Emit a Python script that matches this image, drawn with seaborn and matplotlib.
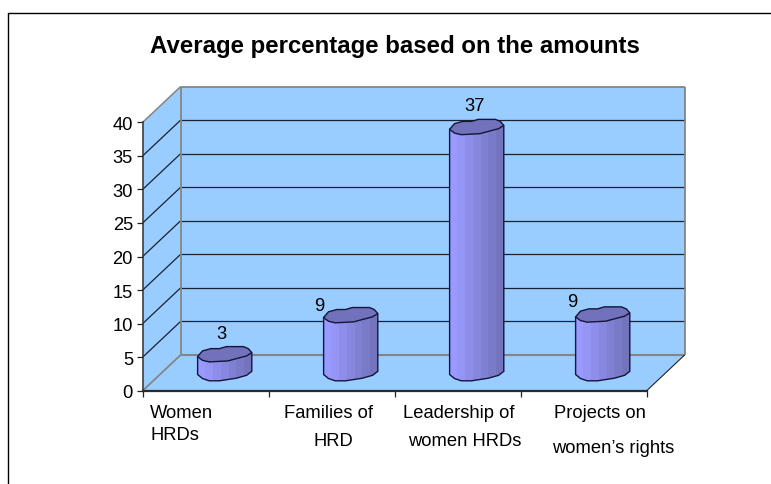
import numpy as np
import pandas as pd
import matplotlib
matplotlib.use("Agg")
import matplotlib.pyplot as plt
from matplotlib.patches import Polygon
from matplotlib.lines import Line2D
from matplotlib.transforms import IdentityTransform
import seaborn as sns

title = "Average percentage based on the amounts"
categories = ["Women HRDs", "Families of HRD", "Leadership of women HRDs", "Projects on women's rights"]
values = [2.7, 8.6, 37, 8.7]
y_ticks = [0, 5, 10, 15, 20, 25, 30, 35, 40]
label_lines = [["Women", "HRDs"], ["Families of", "HRD"], ["Leadership of", "women HRDs"],
               ["Projects on", "women\u2019s rights"]]

W, H = 771, 485
FS = 13.2
sns.set_theme(style="white")
plt.rcParams["font.family"] = ["Liberation Sans", "DejaVu Sans"]
plt.rcParams["axes.unicode_minus"] = False

fig = plt.figure(figsize=(W / 100, H / 100), dpi=100, facecolor="white")

def rect(l, top, r, bot):
    return [l / W, 1 - bot / H, (r - l) / W, (bot - top) / H]

FRONT = (142.7, 123.3, 646.7, 391.7)
DX, DY = 38.0, 35.8
ax = fig.add_axes(rect(*FRONT))
ax.set_xlim(-0.5, 3.5)
ax.set_ylim(0, 40)
ax.patch.set_alpha(0)
for s in ("top", "right"):
    ax.spines[s].set_visible(False)
ax.spines["left"].set_color("#333333")
ax.spines["left"].set_linewidth(1.1)
ax.spines["bottom"].set_color("#2a2a2a")
ax.spines["bottom"].set_linewidth(1.6)
ax.set_yticks(y_ticks)
ax.set_xticks(np.arange(-0.5, 4, 1))
ax.set_xticklabels([])
ax.tick_params(axis="both", length=4.5, width=0.9, color="#222222", direction="out",
               left=True, bottom=True, labelsize=FS, labelcolor="black", pad=2.5)

WALL = "#99CCFF"
GREY = "#858585"
PX = IdentityTransform()

def front(x, y):
    return ax.transData.transform((x, y))

def back(x, y):
    return front(x, y) + np.array([DX, DY])

def poly(pts, **kw):
    ax.add_patch(Polygon(np.array(pts), closed=True, transform=PX, clip_on=False, **kw))

def seg(a, b, color, lw, z=1):
    ax.add_line(Line2D([a[0], b[0]], [a[1], b[1]], transform=PX, color=color, lw=lw,
                       clip_on=False, zorder=z, solid_capstyle="butt"))

x0, x1 = -0.5, 3.5
y_min, y_max = y_ticks[0], y_ticks[-1]
poly([back(x0, y_min), back(x1, y_min), back(x1, y_max), back(x0, y_max)], facecolor=WALL, edgecolor="none", zorder=0.5)
poly([front(x0, y_min), back(x0, y_min), back(x0, y_max), front(x0, y_max)], facecolor=WALL, edgecolor="none", zorder=0.5)
poly([front(x0, y_min), front(x1, y_min), back(x1, y_min), back(x0, y_min)], facecolor=WALL, edgecolor="none", zorder=0.5)

for t in y_ticks[1:-1]:
    seg(front(x0, t), back(x0, t), "#1a2230", 0.9)
    seg(back(x0, t), back(x1, t), "#1a2230", 0.9)
seg(front(x0, y_max), back(x0, y_max), GREY, 1.1)
seg(back(x0, y_max), back(x1, y_max), GREY, 1.3)
seg(back(x1, y_max), back(x1, y_min), GREY, 1.3)
seg(back(x0, y_max), back(x0, y_min), GREY, 1.3)
seg(back(x0, y_min), back(x1, y_min), GREY, 1.5)
seg(front(x0, y_min), back(x0, y_min), GREY, 1.3)
seg(front(x1, y_min), back(x1, y_min), "#222222", 0.8)

# category labels: one text per line, placed as in the reference
line_x = [[150, 150], [328.6, 333], [459, 465], [600, 613]]
line_y = [[414, 436], [414, 442], [414, 442], [414, 449]]
line_ha = ["left", "center", "center", "center"]
for i, lines in enumerate(label_lines):
    for j, txt in enumerate(lines):
        fig.text(line_x[i][j] / W, 1 - line_y[i][j] / H, txt, ha=line_ha[i], va="center",
                 fontsize=FS, color="black")

fig.text(395 / W, 1 - 46 / H, title, ha="center", va="center", fontsize=17.3, fontweight="bold", color="black")

# cylinders sit on a plane halfway into the depth of the floor
ax_mid = fig.add_axes(rect(142.7 + 19, 375.5 - 265, 646.7 + 19, 375.5))
df = pd.DataFrame({"category": categories, "value": values})
sns.barplot(data=df, x="category", y="value", ax=ax_mid, width=0.43, color="#9999FF",
            saturation=1, errorbar=None, legend=False)
ax_mid.set_xlim(-0.5, 3.5)
ax_mid.set_ylim(0, 40)
ax_mid.axis("off")
ax_mid.patch.set_alpha(0)

TOP_U = [-1, -.82, -.51, -.19, .06, .69, .87, 1, .81, .43, .12, -.57, -.82]
TOP_D = [0, 5.7, 8, 8, 10, 10, 8, 4, .7, -2, -4.3, -5.3, -3.7]
BOT_U = [1, .81, .43, -.19, -.57, -.82, -1]
BOT_D = [3.2, -.8, -3.7, -6.3, -6.3, -4, 0]
BAND_COLORS = ["#9999FF", "#9595F6", "#8E8EEA", "#8787DE", "#8080D2", "#7A7AC8", "#7474BE"]
TOP_COLOR = "#7272BC"
EDGE = "#15153A"

for patch, v in zip(list(ax_mid.patches), values):
    bx, bw = patch.get_x(), patch.get_width()
    patch.set_visible(False)
    lpx = ax_mid.transData.transform((bx, v))
    rpx = ax_mid.transData.transform((bx + bw, 0))
    cx, half = (lpx[0] + rpx[0]) / 2, (rpx[0] - lpx[0]) / 2
    ytop, ybase = lpx[1], rpx[1]
    top = [(cx + u * half, ytop + d) for u, d in zip(TOP_U, TOP_D)]
    bottom = [(cx + u * half, ybase + d) for u, d in zip(BOT_U, BOT_D)]
    right_top = (cx + half, ytop + 4)
    outline = [(cx - half, ytop), right_top] + bottom
    body = Polygon(np.array(outline), closed=True, transform=PX, facecolor="none", edgecolor=EDGE,
                   lw=1.0, zorder=4, clip_on=False)
    ax_mid.add_patch(body)
    n = len(BAND_COLORS)
    edges = np.linspace(bx, bx + bw, n + 1)
    for k in range(n):
        strip = ax_mid.bar(edges[k], v + 4, width=edges[k + 1] - edges[k], bottom=-2, align="edge",
                           color=BAND_COLORS[k], linewidth=0, zorder=3)[0]
        strip.set_clip_box(None)
        strip.set_clip_path(body)
    ax_mid.add_patch(Polygon(np.array(top), closed=True, transform=PX, facecolor=TOP_COLOR,
                             edgecolor=EDGE, lw=1.0, zorder=5, clip_on=False))

label_off = [(-3, 23.6), (-31.7, 12.5), (-2, 23.7), (-30, 15)]
for i, v in enumerate(values):
    ax_mid.annotate(f"{v:.0f}", xy=(i, v), xytext=(label_off[i][0] / 1.389, label_off[i][1] / 1.389),
                    textcoords="offset points", ha="center", va="center", fontsize=FS,
                    color="black", annotation_clip=False, zorder=6)

# outer frame of the chart object: left and top edges only are inside the picture
FRAME_L, FRAME_T = 8.3, 14.3
for xs, ys in (([FRAME_L, FRAME_L], [H, FRAME_T]), ([FRAME_L, W], [FRAME_T, FRAME_T])):
    fig.add_artist(Line2D([a / W for a in xs], [1 - b / H for b in ys], color="black", lw=1.0))

fig.savefig("out.png", dpi=100, facecolor="white")
